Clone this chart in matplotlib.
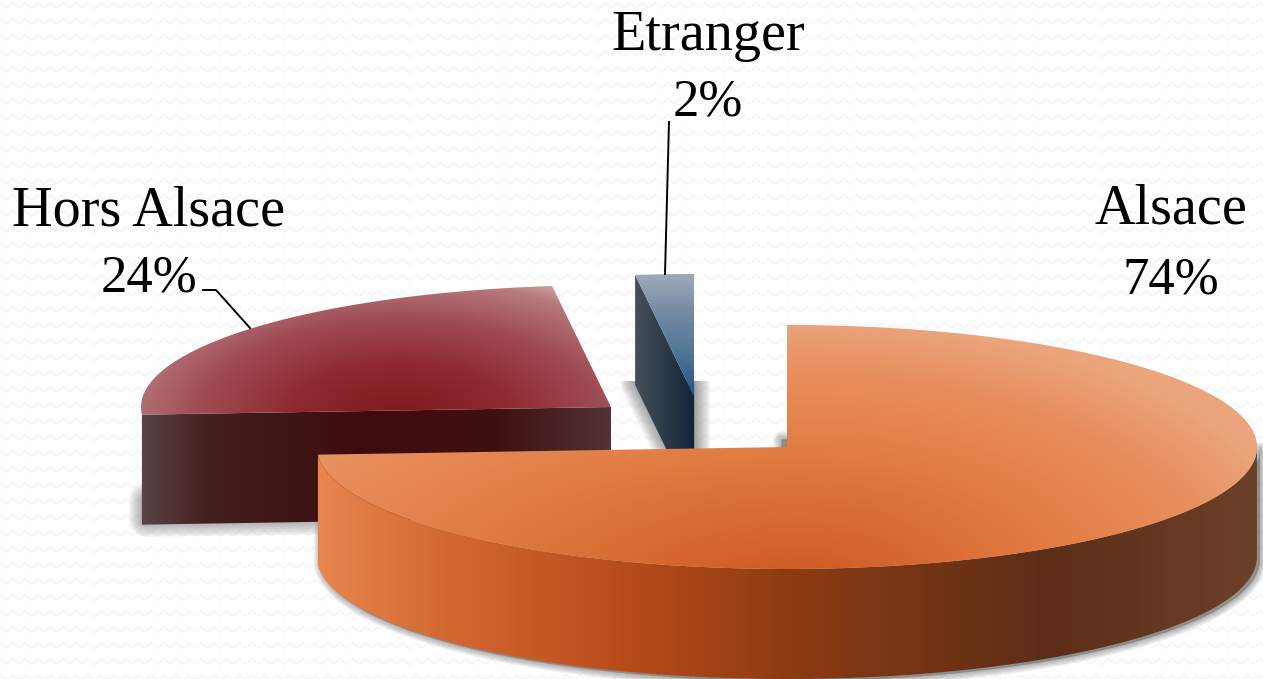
"""3D exploded pie: Alsace / Hors Alsace / Etranger, drawn in pixel coordinates."""
import numpy as np
import matplotlib
matplotlib.use("Agg")
import matplotlib.pyplot as plt
from matplotlib.colors import LinearSegmentedColormap
from matplotlib.patches import PathPatch, Rectangle
from matplotlib.path import Path

W, H = 1263, 679

categories = ["Alsace", "Hors Alsace", "Etranger"]
shares = [74, 24, 2]

RX, RY, DEPTH = 470, 122, 110
APEX = {"Alsace": (787, 447), "Hors Alsace": (611, 407), "Etranger": (694, 396)}
LABEL_POS = {"Alsace": (1171, 223, 293), "Hors Alsace": (149, 226, 292),
             "Etranger": (708, 50, 116)}

XX, YY = np.meshgrid(np.arange(W) + 0.5, np.arange(H) + 0.5)


def rim(name, a0, a1, dy=0, n=200):
    # angles are degrees clockwise from 12 o'clock
    cx, cy = APEX[name]
    a = np.radians(np.linspace(a0, a1, n))
    return np.column_stack([cx + RX * np.sin(a), cy - RY * np.cos(a) + dy])


def poly(pts):
    pts = np.vstack([pts, pts[:1]])
    return Path(pts, closed=True)


def shade(ax, path, values, stops, zorder):
    cmap = LinearSegmentedColormap.from_list("s", stops)
    patch = PathPatch(path, fc="none", ec="none", zorder=zorder)
    ax.add_patch(patch)
    im = ax.imshow(cmap(np.clip(values, 0, 1)), extent=(0, W, H, 0), aspect="auto",
                   zorder=zorder, interpolation="bilinear")
    im.set_clip_path(patch)


def soft_shadow(ax, path, clip=None, max_lw=18, alpha=0.05):
    for lw in np.linspace(1, max_lw, 9):
        p = PathPatch(path, fc="#444444", ec="#444444", lw=lw, alpha=alpha, zorder=2,
                      joinstyle="round")
        ax.add_patch(p)
        if clip is not None:
            p.set_clip_path(Rectangle(clip[:2], clip[2], clip[3], transform=ax.transData))


def background(ax):
    # faint zigzag paper texture
    wave = np.abs(((XX / 12.6) % 1) - 0.5) * 10
    d = np.abs(((YY + wave) % 16) - 8)
    tex = np.where(d < 1.6, 0.972, 1.0)
    ax.imshow(tex, extent=(0, W, H, 0), aspect="auto", cmap="gray", vmin=0, vmax=1,
              zorder=0, interpolation="bilinear")


fig = plt.figure(figsize=(W / 100, H / 100), dpi=100)
ax = fig.add_axes([0, 0, 1, 1])
background(ax)

# slice angles from the data, starting at 12 o'clock, going clockwise
edges = np.concatenate([[0], np.cumsum(shares)]) * 3.6
angle = {c: (edges[i], edges[i + 1]) for i, c in enumerate(categories)}

# --- Etranger
name = "Etranger"
cx, cy = APEX[name]
a0, a1 = angle[name]
left = rim(name, a0, a0, n=1)[0]
soft_shadow(ax, poly(np.array([[left[0], 382], [cx, 382], [cx, 449], [668, 449]])),
            clip=(600, 381, 130, 70), max_lw=22, alpha=0.07)
wall = np.array([[cx, cy], left, left + [0, DEPTH], [cx, cy + DEPTH]])
shade(ax, poly(wall), (XX - left[0]) / (cx - left[0]),
      ["#464F59", "#2C3B49", "#0F2539"], 3)
top = np.vstack([[[cx, cy]], rim(name, a0, a1, n=20)])
shade(ax, poly(top), (YY - 274) / (cy - 274),
      ["#9DAAB9", "#7289A3", "#4F7396", "#245480"], 4)

# --- Hors Alsace
name = "Hors Alsace"
cx, cy = APEX[name]
a0, a1 = angle[name]
left = rim(name, a0, a0, n=1)[0]
wall = np.array([[cx, cy], left, left + [0, DEPTH], [cx, cy + DEPTH]])
soft_shadow(ax, poly(np.array([[left[0] + 4, 500], [left[0] + 4, 520], [310, 518]])),
            max_lw=24, alpha=0.07)
shade(ax, poly(wall), np.interp(XX, [left[0], 220, 400, 500, cx], [0, 0.3, 0.55, 0.75, 1]),
      ["#594246", "#44211F", "#3D0C0E", "#3F1012", "#523236"], 5)
r = np.sqrt(((XX - 400) / 270) ** 2 + ((YY - 415) / 130) ** 2) / 1.15
top = np.vstack([[[cx, cy]], rim(name, a0, a1)])
shade(ax, poly(top), r, [(0, "#7F1A1E"), (0.35, "#8E2A30"), (0.65, "#A04C55"),
                         (0.9, "#B67A7D"), (1, "#CFA3A3")], 6)

# --- Alsace
name = "Alsace"
cx, cy = APEX[name]
a0, a1 = angle[name]
soft_shadow(ax, poly(np.array([[781, 439], [787, 439], [787, 447], [781, 447]])),
            max_lw=12, alpha=0.05)
front = rim(name, 90, a1)
wall = np.vstack([front, (front + [0, DEPTH])[::-1]])
soft_shadow(ax, poly(wall + [3, 2]), max_lw=10, alpha=0.05)
shade(ax, poly(wall), np.interp(XX, [317, 450, 640, 800, 1050, 1257], [0, 0.2, 0.4, 0.6, 0.8, 1]),
      ["#E88650", "#D2672F", "#B54A18", "#8A3A12", "#5C2E18", "#6B4028"], 7)
# left side of the top face stays darker than the right side
sx = np.where(XX < 800, 700, 520)
r = np.sqrt(((XX - 800) / sx) ** 2 + ((YY - 590) / 270) ** 2)
top = np.vstack([[[cx, cy]], rim(name, a0, a1, n=400)])
shade(ax, poly(top), r, [(0, "#CC5820"), (0.5, "#E17C42"), (0.8, "#E88E5C"),
                         (1, "#EBA47C")], 8)

# leader lines
ax.plot([669, 665], [122, 274], color="black", lw=1.4, zorder=9)
ax.plot([203, 216, 250], [290, 290, 328], color="black", lw=1.4, zorder=9)

for name, share in zip(categories, shares):
    x, y1, y2 = LABEL_POS[name]
    ax.text(x, y1, name, ha="center", va="baseline", fontsize=40.5,
            family="Liberation Serif", color="black", zorder=10)
    ax.text(x, y2, f"{share}%", ha="center", va="baseline", fontsize=38,
            family="Liberation Serif", color="black", zorder=10)

ax.set_xlim(0, W)
ax.set_ylim(H, 0)
ax.axis("off")
fig.savefig("out.png", dpi=100)
